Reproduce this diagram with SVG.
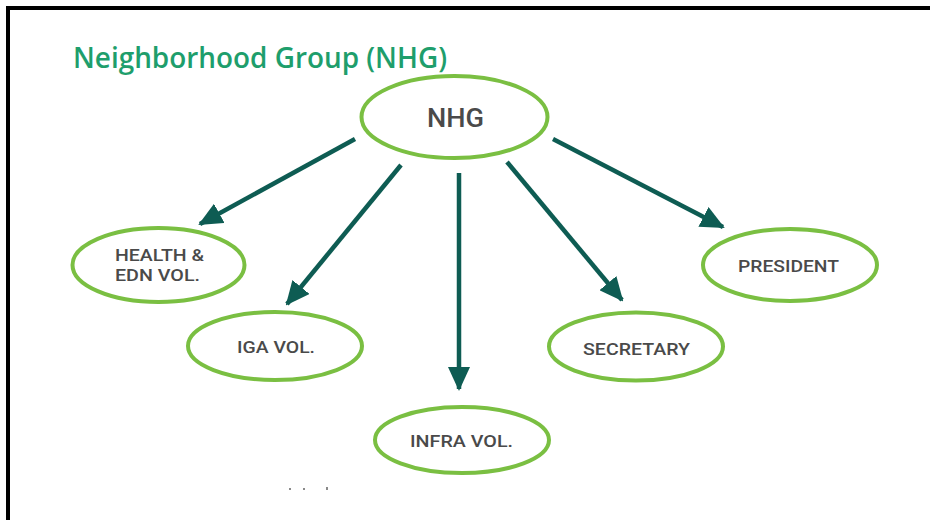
<svg xmlns="http://www.w3.org/2000/svg" width="930" height="520" viewBox="0 0 930 520">
  <style>
    .node ellipse { fill: #ffffff; stroke: #7abf42; stroke-width: 4; }
    .lbl { font-family: Roboto, "Liberation Sans", Arial, sans-serif; font-weight: 500; font-size: 17px; fill: #4a4a4a; text-anchor: middle; }
    .edge { stroke: #0e5c53; stroke-width: 4.5; fill: none; marker-end: url(#arrow); }
    .title { font-family: "Open Sans", "Noto Sans", sans-serif; font-weight: 600; font-size: 28px; fill: #1e9e6c; }
  </style>
  <defs>
    <marker id="arrow" markerUnits="userSpaceOnUse" markerWidth="24" markerHeight="22" viewBox="0 0 24 22" refX="22" refY="11" orient="auto">
      <path d="M0,0 L24,11 L0,22 z" fill="#0e5c53"/>
    </marker>
  </defs>
  <rect x="0" y="0" width="930" height="520" fill="#ffffff"/>
  <g id="border">
    <rect x="6" y="6" width="924" height="4" fill="#000000"/>
    <rect x="6" y="6" width="4" height="514" fill="#000000"/>
  </g>
  <text class="title" x="73" y="68" textLength="374" lengthAdjust="spacingAndGlyphs">Neighborhood Group (NHG)</text>
  <g id="connectors">
    <line class="edge" x1="355" y1="139" x2="200" y2="224"/>
    <line class="edge" x1="401" y1="165" x2="287" y2="304"/>
    <line class="edge" x1="459" y1="173" x2="459" y2="389"/>
    <line class="edge" x1="507" y1="162" x2="622" y2="300"/>
    <line class="edge" x1="553" y1="139" x2="723" y2="227"/>
  </g>
  <g id="nhg" class="node">
    <ellipse cx="454.5" cy="117" rx="93" ry="41"/>
    <text class="lbl" x="455.5" y="127" style="font-size:26px" textLength="57" lengthAdjust="spacingAndGlyphs">NHG</text>
  </g>
  <g id="health" class="node">
    <ellipse cx="158.5" cy="265" rx="86" ry="37"/>
    <text class="lbl" x="115" y="261" style="text-anchor:start" textLength="89" lengthAdjust="spacingAndGlyphs">HEALTH &amp;</text>
    <text class="lbl" x="115" y="281" style="text-anchor:start" textLength="85" lengthAdjust="spacingAndGlyphs">EDN VOL.</text>
  </g>
  <g id="iga" class="node">
    <ellipse cx="275" cy="346" rx="87" ry="34"/>
    <text class="lbl" x="276" y="353" textLength="78" lengthAdjust="spacingAndGlyphs">IGA VOL.</text>
  </g>
  <g id="infra" class="node">
    <ellipse cx="462" cy="440" rx="87" ry="33"/>
    <text class="lbl" x="461.5" y="447" textLength="103" lengthAdjust="spacingAndGlyphs">INFRA VOL.</text>
  </g>
  <g id="secretary" class="node">
    <ellipse cx="636" cy="346.5" rx="87" ry="34"/>
    <text class="lbl" x="636.5" y="355" textLength="107" lengthAdjust="spacingAndGlyphs">SECRETARY</text>
  </g>
  <g id="president" class="node">
    <ellipse cx="790" cy="265" rx="87" ry="36"/>
    <text class="lbl" x="788.5" y="272" textLength="101" lengthAdjust="spacingAndGlyphs">PRESIDENT</text>
  </g>
  <g id="specks" fill="#8a8a8a">
    <rect x="289" y="488" width="2" height="2"/>
    <rect x="303" y="488" width="2" height="2"/>
    <rect x="326" y="487" width="2" height="3"/>
  </g>
</svg>
